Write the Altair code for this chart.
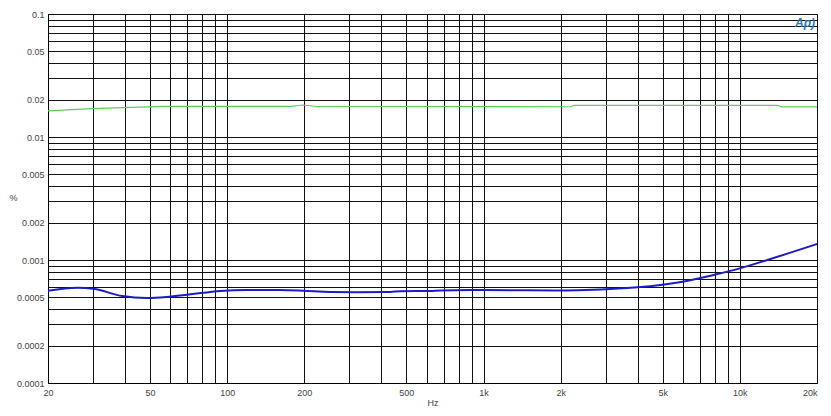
import altair as alt
import pandas as pd

# Data
green_freq = [20, 29.6, 39, 56, 176, 198, 224, 2200, 2250, 14100, 14500, 20000]
green_pct = [0.0163, 0.0170, 0.0173, 0.01775, 0.01775, 0.0182, 0.0177, 0.01762, 0.0181, 0.0181, 0.0176, 0.0176]

blue_freq = [20, 26, 30.5, 39, 48.5, 58, 72, 94, 119, 160, 198, 252, 320, 432, 472, 618, 680,
             1000, 2000, 2500, 4000, 4900, 6200, 7900, 10000, 12800, 16200, 20000]
blue_pct = [0.000563, 0.000596, 0.00058, 0.000509, 0.000491, 0.0005, 0.000526, 0.00056, 0.00057,
            0.00057, 0.000563, 0.00055, 0.000548, 0.00055, 0.000557, 0.00056, 0.000566,
            0.00057, 0.000565, 0.00057, 0.0006, 0.000627, 0.000675, 0.000755, 0.000855,
            0.001, 0.00117, 0.00135]

x_grid = [20, 30, 40, 50, 60, 70, 80, 90, 100, 200, 300, 400, 500, 600, 700, 800, 900,
          1000, 2000, 3000, 4000, 5000, 6000, 7000, 8000, 9000, 10000, 20000]
x_labels = [20, 50, 100, 200, 500, 1000, 2000, 5000, 10000, 20000]

y_grid = [m * d for d in [0.0001, 0.001, 0.01] for m in range(1, 10)] + [0.1]
y_labels = ["0.0001", "0.0002", "0.0005", "0.001", "0.002", "0.005", "0.01", "0.02", "0.05", "0.1"]

df_g = pd.DataFrame({"f": green_freq, "v": green_pct})
df_b = pd.DataFrame({"f": blue_freq, "v": blue_pct})

xscale = alt.Scale(type="log", domain=[20, 20000], nice=False)
yscale = alt.Scale(type="log", domain=[0.0001, 0.1], nice=False)

lab_font = "Liberation Sans"
lab_col = "#444444"

x_label_list = "[" + ",".join(str(v) for v in x_labels) + "]"
x_expr = (f"indexof({x_label_list}, datum.value) >= 0 ? "
          "(datum.value >= 1000 ? (datum.value/1000) + 'k' : '' + datum.value) : ''")
y_label_list = "[" + ",".join(f"'{s}'" for s in y_labels) + "]"
y_expr = (f"indexof({y_label_list}, format(datum.value, '.1~g')) >= 0 ? "
          "format(datum.value, '.1~g') : ''")

x_axis = alt.Axis(values=x_grid, labelExpr=x_expr, grid=True, gridColor="#111111",
                  gridWidth=1, ticks=False, tickSize=0, labelPadding=5,
                  labelFont=lab_font, labelFontSize=9, labelColor=lab_col,
                  labelAlign={"condition": {"test": "datum.value >= 20000", "value": "right"},
                              "value": "center"},
                  domainColor="#000000", labelFlush=False, labelOverlap=False,
                  title="Hz", titleFont=lab_font, titleFontSize=9, titleFontWeight="normal",
                  titleColor=lab_col, titlePadding=1)
y_axis = alt.Axis(values=y_grid, labelExpr=y_expr, grid=True, gridColor="#111111",
                  gridWidth=1, ticks=False, tickSize=0, labelPadding=4,
                  labelFont=lab_font, labelFontSize=9, labelColor=lab_col,
                  domainColor="#000000", labelFlush=False, labelOverlap=False,
                  labelBaseline="middle",
                  title="%", titleFont=lab_font, titleFontSize=9, titleFontWeight="normal",
                  titleColor=lab_col, titleAngle=0, titleX=-35, titleY=183,
                  titleAlign="center", titleBaseline="middle")

green = alt.Chart(df_g).mark_line(color="#5ccf5c", strokeWidth=1.2).encode(
    x=alt.X("f:Q", scale=xscale, axis=x_axis),
    y=alt.Y("v:Q", scale=yscale, axis=y_axis),
)
blue = alt.Chart(df_b).mark_line(color="#1c1cc4", strokeWidth=2, interpolate="monotone").encode(
    x=alt.X("f:Q", scale=xscale),
    y=alt.Y("v:Q", scale=yscale),
)
logo = alt.Chart(pd.DataFrame({"t": ["Ap)"]})).mark_text(
    font=lab_font, fontSize=12, fontStyle="italic", fontWeight="bold",
    color="#2f78b4", align="center", baseline="middle"
).encode(text="t:N", x=alt.value(757), y=alt.value(9))

chart = alt.layer(green, blue, logo).properties(
    width=769, height=369,
    autosize=alt.AutoSizeParams(type="none"),
    padding={"left": 40, "top": 6, "right": 6, "bottom": 24},
    background="white",
).configure_view(stroke="#999999", strokeWidth=1)

chart.save("out.html", embed_options={"renderer": "svg", "actions": False})
